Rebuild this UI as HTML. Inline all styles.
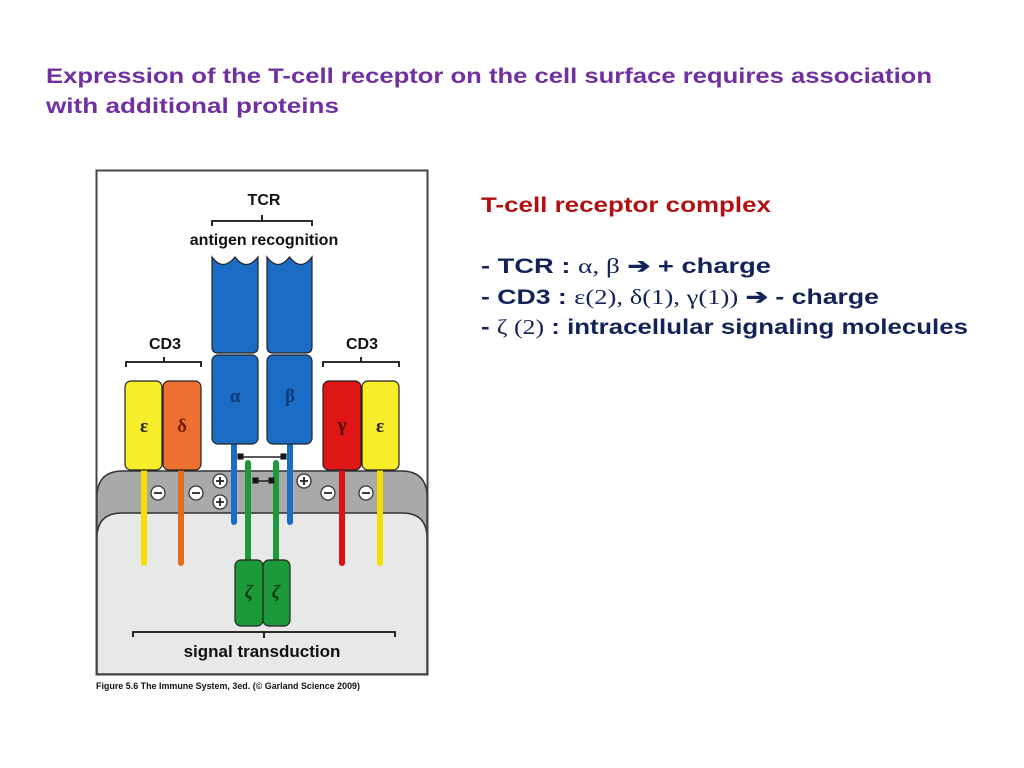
<!DOCTYPE html>
<html><head><meta charset="utf-8"><style>
html,body{margin:0;padding:0;background:#fff;width:1024px;height:768px;overflow:hidden}
svg{display:block}
.t{font-family:"Liberation Sans","Noto Sans CJK KR",sans-serif;font-weight:bold}
.s{font-family:"Liberation Serif",serif;font-weight:normal}
</style></head><body>
<svg width="1024" height="768" viewBox="0 0 1024 768" xmlns="http://www.w3.org/2000/svg">
<text class="t" x="46" y="83" font-size="21" fill="#7030a0" textLength="886" lengthAdjust="spacingAndGlyphs">Expression of the T-cell receptor on the cell surface requires association</text>
<text class="t" x="46" y="113" font-size="21" fill="#7030a0" textLength="293" lengthAdjust="spacingAndGlyphs">with additional proteins</text>

<rect x="96.5" y="170.5" width="331" height="504" fill="#fff" stroke="#444" stroke-width="2"/>
<path d="M97 674 V497 Q97 471 123 471 H401 Q427 471 427 497 V674 Z" fill="#a9a9a9" stroke="#333" stroke-width="1.5"/>
<path d="M97 674 V538 Q97 513 122 513 H402 Q427 513 427 538 V674 Z" fill="#e8e8e8" stroke="#333" stroke-width="1.5"/>
<rect x="96.5" y="170.5" width="331" height="504" fill="none" stroke="#444" stroke-width="2"/>

<g class="t" fill="#111" text-anchor="middle">
<text x="264" y="205" font-size="16">TCR</text>
<text x="264" y="245" font-size="16">antigen recognition</text>
<text x="165" y="349" font-size="16">CD3</text>
<text x="362" y="349" font-size="16">CD3</text>
<text x="262" y="657" font-size="17">signal transduction</text>
</g>
<g fill="none" stroke="#111" stroke-width="1.8">
<path d="M212 226 V221 H312 V226 M262 221 V215"/>
<path d="M126 367 V362 H201 V367 M164 362 V357"/>
<path d="M323 367 V362 H399 V367 M361 362 V357"/>
<path d="M133 637 V632 H395 V637 M264 632 V638"/>
</g>

<g stroke-linecap="round" stroke-width="6">
<line x1="144" y1="465" x2="144" y2="563" stroke="#f2e100"/>
<line x1="181" y1="465" x2="181" y2="563" stroke="#e86a1e"/>
<line x1="342" y1="465" x2="342" y2="563" stroke="#dd1111"/>
<line x1="380" y1="465" x2="380" y2="563" stroke="#f2e100"/>
<line x1="234" y1="440" x2="234" y2="522" stroke="#1a6cc4"/>
<line x1="290" y1="440" x2="290" y2="522" stroke="#1a6cc4"/>
<line x1="248" y1="463" x2="248" y2="565" stroke="#1c9a3a"/>
<line x1="276" y1="463" x2="276" y2="565" stroke="#1c9a3a"/>
</g>
<g stroke="#222" stroke-width="1.2">
<line x1="240" y1="457" x2="284" y2="457" stroke-width="1.5"/>
<rect x="238" y="454" width="5" height="5" fill="#111"/><rect x="281" y="454" width="5" height="5" fill="#111"/>
<line x1="256" y1="481" x2="271" y2="481" stroke-width="1.5"/>
<rect x="253" y="478" width="5" height="5" fill="#111"/><rect x="269" y="478" width="5" height="5" fill="#111"/>
</g>

<g stroke="#222" stroke-width="1.2">
<rect x="125" y="381" width="37" height="89" rx="6" fill="#f6ec2a"/>
<rect x="163" y="381" width="38" height="89" rx="6" fill="#ee7030"/>
<rect x="323" y="381" width="38" height="89" rx="6" fill="#e01515"/>
<rect x="362" y="381" width="37" height="89" rx="6" fill="#f6ec2a"/>
<path d="M212 257 Q223 272 235 257 Q246 272 258 257 V347 Q258 353 252 353 H218 Q212 353 212 347 Z" fill="#1a6cc4"/>
<path d="M267 257 Q278 272 289.5 257 Q301 272 312 257 V347 Q312 353 306 353 H273 Q267 353 267 347 Z" fill="#1a6cc4"/>
<rect x="212" y="355" width="46" height="89" rx="6" fill="#1a6cc4"/>
<rect x="267" y="355" width="45" height="89" rx="6" fill="#1a6cc4"/>
<rect x="235" y="560" width="28" height="66" rx="6" fill="#1c9a3a"/>
<rect x="263" y="560" width="27" height="66" rx="6" fill="#1c9a3a"/>
</g>
<g font-family="Liberation Serif,serif" font-weight="bold" text-anchor="middle" font-size="19">
<text x="144" y="432" fill="#222">ε</text>
<text x="182" y="432" fill="#7a1a00">δ</text>
<text x="342" y="431" fill="#4a0000">γ</text>
<text x="380" y="432" fill="#222">ε</text>
<text x="235" y="402" fill="#0b3a78">α</text>
<text x="290" y="402" fill="#0b3a78">β</text>
<text x="249" y="598" fill="#0a3a10" font-style="italic">ζ</text>
<text x="276" y="598" fill="#0a3a10" font-style="italic">ζ</text>
</g>

<g stroke="#333" stroke-width="1.3" fill="#fff">
<circle cx="158" cy="493" r="7"/><circle cx="196" cy="493" r="7"/>
<circle cx="220" cy="481" r="7"/><circle cx="220" cy="502" r="7"/>
<circle cx="304" cy="481" r="7"/>
<circle cx="328" cy="493" r="7"/><circle cx="366" cy="493" r="7"/>
</g>
<g stroke="#222" stroke-width="1.8">
<path d="M154 493h8M192 493h8M324 493h8M362 493h8"/>
<path d="M216 481h8M220 477v8M216 502h8M220 498v8M300 481h8M304 477v8"/>
</g>

<text class="t" x="96" y="689" font-size="9.5" fill="#111" textLength="264" lengthAdjust="spacingAndGlyphs">Figure 5.6  The Immune System, 3ed. (© Garland Science 2009)</text>

<text class="t" x="481" y="212" font-size="21" fill="#b01010" textLength="290" lengthAdjust="spacingAndGlyphs">T-cell receptor complex</text>
<g font-size="21" fill="#13235a">
<text x="481" y="273" textLength="290" lengthAdjust="spacingAndGlyphs"><tspan class="t" font-weight="normal">- </tspan><tspan class="t">TCR : </tspan><tspan class="s">α, β</tspan><tspan class="t"> ➔ + charge</tspan></text>
<text x="481" y="304" textLength="398" lengthAdjust="spacingAndGlyphs"><tspan class="t" font-weight="normal">- </tspan><tspan class="t">CD3 : </tspan><tspan class="s">ε(2), δ(1), γ(1))</tspan><tspan class="t"> ➔ - charge</tspan></text>
<text x="481" y="334" textLength="487" lengthAdjust="spacingAndGlyphs"><tspan class="t" font-weight="normal">- </tspan><tspan class="s">ζ (2)</tspan><tspan class="t"> : intracellular signaling molecules</tspan></text>
</g>
</svg>
</body></html>
